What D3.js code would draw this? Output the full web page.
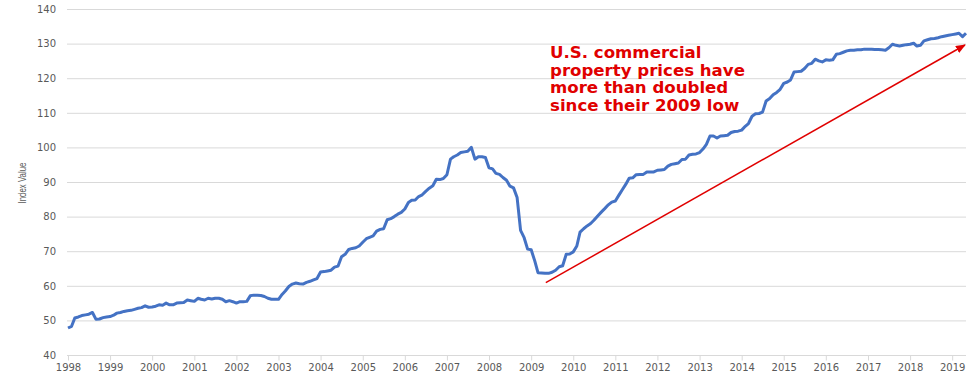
<!DOCTYPE html>
<html>
<head>
<meta charset="utf-8">
<script src="https://cdn.jsdelivr.net/npm/d3@7"></script>
<style>
	body { margin: 0; background: #fff; }
	.tick text { font-family: "DejaVu Sans", Verdana, sans-serif; font-size: 10px; fill: #595959; }
</style>
</head>
<body>
<script>
const width = 975;
const height = 375;

// monthly index, starting January 1998
const seriesStart = "1998-01-01";
const indexValues = [
	47.8, 48.3, 50.7, 51.0, 51.4, 51.6, 51.8, 52.3, 50.3, 50.4, 50.8, 51.0, // 1998
	51.1, 51.5, 52.1, 52.3, 52.6, 52.8, 52.9, 53.2, 53.5, 53.7, 54.2, 53.8, // 1999
	53.9, 54.1, 54.5, 54.4, 55.0, 54.5, 54.5, 55.0, 55.1, 55.2, 55.9, 55.7, // 2000
	55.5, 56.4, 56.1, 55.9, 56.4, 56.2, 56.4, 56.4, 56.1, 55.4, 55.7, 55.4, // 2001
	55.0, 55.4, 55.4, 55.5, 57.1, 57.3, 57.3, 57.2, 56.9, 56.4, 56.1, 56.1, // 2002
	56.1, 57.5, 58.5, 59.8, 60.5, 60.8, 60.6, 60.5, 61.0, 61.3, 61.7, 62.1, // 2003
	64.0, 64.1, 64.3, 64.5, 65.4, 65.7, 68.4, 69.1, 70.5, 70.8, 71.0, 71.5, // 2004
	72.6, 73.6, 74.0, 74.4, 75.8, 76.3, 76.5, 79.1, 79.4, 80.0, 80.7, 81.2, // 2005
	82.2, 84.1, 84.7, 84.8, 85.8, 86.3, 87.3, 88.2, 88.9, 90.8, 90.7, 91.0, // 2006
	92.1, 96.6, 97.3, 97.8, 98.5, 98.7, 98.9, 100.0, 96.6, 97.3, 97.3, 97.1, // 2007
	94.1, 93.8, 92.5, 92.2, 91.3, 90.5, 88.8, 88.3, 85.5, 76.0, 73.9, 70.6, // 2008
	70.4, 67.2, 63.8, 63.7, 63.6, 63.6, 63.9, 64.5, 65.5, 65.8, 69.1, 69.2, // 2009
	69.8, 71.5, 75.5, 76.5, 77.3, 78.0, 79.0, 80.2, 81.3, 82.3, 83.4, 84.2, // 2010
	84.5, 86.2, 87.7, 89.3, 91.1, 91.2, 92.1, 92.2, 92.2, 92.9, 92.9, 92.9, // 2011
	93.4, 93.5, 93.6, 94.6, 95.1, 95.3, 95.5, 96.5, 96.6, 97.8, 98.0, 98.1, // 2012
	98.5, 99.6, 100.9, 103.3, 103.3, 102.7, 103.3, 103.4, 103.5, 104.3, 104.6, 104.7, // 2013
	105.0, 106.1, 106.9, 109.0, 109.7, 109.8, 110.2, 113.4, 114.1, 115.2, 115.9, 116.8, // 2014
	118.5, 118.9, 119.5, 121.8, 121.9, 122.0, 122.8, 124.0, 124.3, 125.5, 125.0, 124.7, // 2015
	125.3, 125.2, 125.3, 126.9, 127.1, 127.5, 127.9, 128.1, 128.1, 128.2, 128.2, 128.4, // 2016
	128.4, 128.4, 128.3, 128.3, 128.2, 128.1, 128.8, 129.8, 129.5, 129.3, 129.5, 129.7, // 2017
	129.8, 130.1, 129.3, 129.5, 130.8, 131.1, 131.4, 131.5, 131.7, 132.0, 132.2, 132.4, // 2018
	132.6, 132.8, 133.0, 132.0, 133.0                                                   // 2019
];

const yearLabels = ["1998", "1999", "2000", "2001", "2002", "2003", "2004", "2005", "2006", "2007", "2008",
	"2009", "2010", "2011", "2012", "2013", "2014", "2015", "2016", "2017", "2018", "2019"];
const yTicks = [40, 50, 60, 70, 80, 90, 100, 110, 120, 130, 140];
const yLabel = "Index Value";

const noteLines = ["U.S. commercial", "property prices have", "more than doubled", "since their 2009 low"];
// arrow from the 2009 low to the latest reading: [date, index value]
const arrowFrom = ["2009-05-08", 60.9];
const arrowTo = ["2019-04-22", 129.6];

document.addEventListener("DOMContentLoaded", function(event) {
	const parse = d3.utcParse("%Y-%m-%d");
	const start = parse(seriesStart);
	const data = indexValues.map(function(v, i) {
		return { date: d3.utcMonth.offset(start, i), value: v };
	});
	createLineChart(data, parse);
});

/**
 * draw the index line, axes, gridlines and the annotation
 *
 * @param data, array of {date, value}
 * @param parse, date parser for the arrow endpoints
 */
function createLineChart(data, parse) {
	const svg = d3.select("body")
		.append("svg")
		.attr("width", width)
		.attr("height", height);

	const x = d3.scaleUtc()
		.domain([parse("1998-01-01"), parse("2019-05-01")])
		.range([68, 966]);

	const y = d3.scaleLinear()
		.domain([40, 140])
		.range([355, 9]);

	//horizontal gridlines
	svg.append("g")
		.selectAll("line")
		.data(yTicks)
		.enter()
		.append("line")
		.attr("x1", 67)
		.attr("x2", 966)
		.attr("y1", function(d) { return y(d) + 0.5; })
		.attr("y2", function(d) { return y(d) + 0.5; })
		.attr("stroke", "#d9d9d9")
		.attr("stroke-width", 1);

	//y axis labels
	const yAxis = svg.append("g")
		.attr("transform", "translate(67,0)")
		.call(d3.axisLeft(y).tickValues(yTicks).tickSize(0).tickPadding(11));
	yAxis.select(".domain").remove();

	//x axis with year ticks
	const xAxis = svg.append("g")
		.attr("transform", "translate(0,355.5)")
		.call(d3.axisBottom(x)
			.tickValues(yearLabels.map(function(d) { return parse(d + "-01-01"); }))
			.tickFormat(function(d, i) { return yearLabels[i]; })
			.tickSize(5)
			.tickSizeOuter(0)
			.tickPadding(3));
	xAxis.select(".domain").attr("stroke", "#d9d9d9").attr("d", "M67,0H966");
	xAxis.selectAll(".tick line").attr("stroke", "#d9d9d9");

	svg.append("text")
		.attr("transform", "translate(26,183) rotate(-90)")
		.attr("text-anchor", "middle")
		.attr("font-family", "'Liberation Sans Narrow', 'Liberation Sans', Arial, sans-serif")
		.attr("font-size", 10)
		.attr("textLength", 41)
		.attr("lengthAdjust", "spacingAndGlyphs")
		.attr("fill", "#595959")
		.text(yLabel);

	//the index line
	const line = d3.line()
		.x(function(d) { return x(d.date); })
		.y(function(d) { return y(d.value); });

	svg.append("path")
		.datum(data)
		.attr("fill", "none")
		.attr("stroke", "#4472c4")
		.attr("stroke-width", 3)
		.attr("stroke-linejoin", "round")
		.attr("d", line);

	//red arrow
	svg.append("defs")
		.append("marker")
		.attr("id", "head")
		.attr("markerUnits", "userSpaceOnUse")
		.attr("markerWidth", 10)
		.attr("markerHeight", 8)
		.attr("refX", 9)
		.attr("refY", 4)
		.attr("orient", "auto")
		.append("path")
		.attr("d", "M0,0L10,4L0,8Z")
		.attr("fill", "#e00000");

	svg.append("line")
		.attr("x1", x(parse(arrowFrom[0])))
		.attr("y1", y(arrowFrom[1]))
		.attr("x2", x(parse(arrowTo[0])))
		.attr("y2", y(arrowTo[1]))
		.attr("stroke", "#e00000")
		.attr("stroke-width", 1.5)
		.attr("marker-end", "url(#head)");

	//annotation text
	svg.append("g")
		.selectAll("text")
		.data(noteLines)
		.enter()
		.append("text")
		.attr("x", 550)
		.attr("y", function(d, i) { return 58 + i * 17.7; })
		.attr("font-family", "'DejaVu Sans', Verdana, sans-serif")
		.attr("font-weight", "bold")
		.attr("font-size", 16.6)
		.attr("fill", "#e00000")
		.text(function(d) { return d; });
}
</script>
</body>
</html>
